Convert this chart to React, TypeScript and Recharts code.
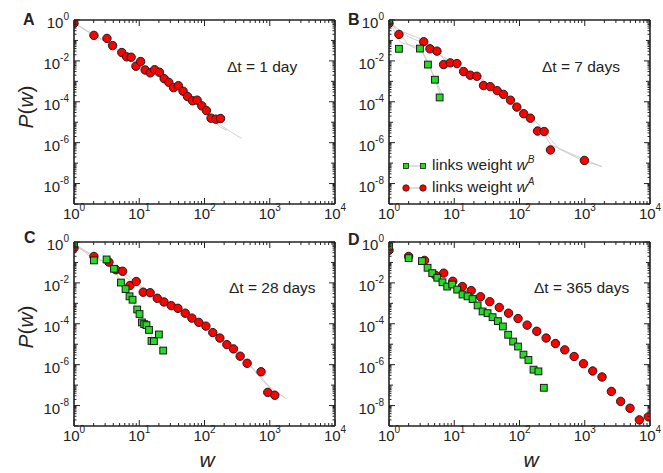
import React from 'react';
import { ScatterChart, Scatter, XAxis, YAxis } from 'recharts';

const FONT = '"Liberation Sans", Arial, Helvetica, sans-serif';
const INK = '#222';
const RED = '#ff0000';
const GREEN = '#22dd22';
const GRAY = '#cfcfcf';

// ---- panel A : Δt = 1 day ----
const aRedW = [1, 2.02, 3.2, 3.9, 5.4, 6.4, 7.5, 8.9, 10.5, 12.3, 14.7, 17.2, 20.4, 24.1, 28.4, 33.5, 39.8, 47, 55, 65.5, 77, 91, 107, 126, 149, 176];
const aRedP = [0.69, 0.177, 0.126, 0.056, 0.0257, 0.0158, 0.0151, 0.0055, 0.0093, 0.0036, 0.0026, 0.0037, 0.0028, 0.00135, 0.00089, 0.00049, 0.00061, 0.00033, 0.00018, 0.000112, 0.00012, 6.3e-5, 3.7e-5, 1.58e-5, 1.41e-5, 1.51e-5];
const aNull1W = [1, 2, 4, 7, 12, 20, 35, 60, 100, 150, 250, 370];
const aNull1P = [0.7, 0.2, 0.05, 0.014, 0.0045, 0.0016, 0.00045, 0.00013, 3.5e-5, 1e-5, 3.5e-6, 1.6e-6];
const aNull2W = [1, 2, 3, 5, 9, 15, 25, 45, 80, 120, 170, 220];
const aNull2P = [0.72, 0.17, 0.09, 0.03, 0.008, 0.0028, 0.0011, 0.00028, 7e-5, 2.2e-5, 6e-6, 4e-6];

// ---- panel B : Δt = 7 days ----
const bRedW = [1, 1.42, 3.4, 4.24, 5.43, 6.87, 8.7, 11, 13.9, 17.6, 22.2, 28.1, 35.6, 45.5, 56.9, 72.8, 91, 116, 147, 189, 239, 298, 988];
const bRedP = [0.69, 0.197, 0.086, 0.039, 0.03, 0.0066, 0.008, 0.0074, 0.003, 0.002, 0.00177, 0.00062, 0.00055, 0.00035, 0.00023, 0.00012, 5.5e-5, 2.6e-5, 1.58e-5, 3.7e-6, 3.5e-6, 4.4e-7, 1.35e-7];
const bGreenW = [1, 1.42, 2.98, 3.95, 5.06, 5.97];
const bGreenP = [0.95, 0.039, 0.04, 0.0066, 0.0012, 0.000163];
const bNull1W = [1, 1.5, 3, 5, 7, 10, 15, 22, 35, 60, 100, 150, 200, 300, 600, 1000, 1840];
const bNull1P = [0.75, 0.3, 0.12, 0.04, 0.012, 0.008, 0.0035, 0.0019, 0.0007, 0.00022, 5e-5, 1.8e-5, 7e-6, 8e-7, 3e-7, 1.5e-7, 6.6e-8];
const bNull2W = [1, 2, 4, 6, 9, 14, 25, 40, 70, 110, 170, 230, 300, 400, 1000, 1800];
const bNull2P = [0.8, 0.15, 0.06, 0.02, 0.009, 0.004, 0.0012, 0.0005, 0.00014, 3.5e-5, 1.2e-5, 5e-6, 1.5e-6, 5e-7, 1.2e-7, 7e-8];
const bNull3W = [1, 1.5, 3, 4, 5, 6.2];
const bNull3P = [0.95, 0.08, 0.045, 0.008, 0.0014, 0.0002];
const bNull4W = [1, 2, 3.2, 4.2, 5.3, 6.5];
const bNull4P = [0.9, 0.06, 0.03, 0.005, 0.001, 0.00025];

// ---- panel C : Δt = 28 days ----
const cRedW = [1, 2.02, 3.43, 4.39, 5.56, 7.2, 9.0, 11.5, 14.7, 18.9, 23.9, 30.9, 39.1, 50.6, 64, 81.8, 105, 134, 172, 220, 278, 352, 450, 736, 932, 1193];
const cRedP = [0.51, 0.197, 0.104, 0.044, 0.037, 0.0074, 0.0117, 0.0035, 0.0033, 0.00177, 0.00117, 0.00077, 0.00057, 0.00033, 0.00019, 0.000117, 7.7e-5, 3.7e-5, 2.0e-5, 9.6e-6, 5.9e-6, 2.6e-6, 1.17e-6, 4.5e-7, 4.4e-8, 3.2e-8];
const cGreenW = [1, 2.02, 3.16, 4.1, 5.24, 6.17, 7.1, 7.9, 9.3, 10.1, 11, 11.9, 12.9, 14.1, 15.4, 16.8, 20, 23.3];
const cGreenP = [0.83, 0.126, 0.14, 0.049, 0.0104, 0.005, 0.0022, 0.0015, 0.0005, 0.0003, 0.000117, 9.6e-5, 8.6e-5, 5.0e-5, 1.45e-5, 1.41e-5, 3.0e-5, 4.9e-6];
const cNull1W = [1, 2, 4, 8, 15, 30, 60, 120, 250, 450, 700, 1000, 1800];
const cNull1P = [0.7, 0.2, 0.06, 0.01, 0.003, 0.0008, 0.00021, 4.5e-5, 7e-6, 1.3e-6, 3e-7, 8e-8, 2.1e-8];
const cNull2W = [1, 3, 6, 10, 20, 40, 80, 160, 300, 500, 800, 1200, 1600];
const cNull2P = [0.8, 0.1, 0.03, 0.008, 0.0017, 0.0005, 0.00012, 2.5e-5, 4e-6, 9e-7, 1.5e-7, 4e-8, 3e-8];
const cNull3W = [1, 2, 3, 4, 5, 6, 7, 8, 10, 12, 14, 16, 20, 23];
const cNull3P = [0.85, 0.14, 0.12, 0.05, 0.015, 0.006, 0.0025, 0.0012, 0.00035, 0.0001, 5e-5, 2e-5, 1e-5, 5e-6];

// ---- panel D : Δt = 365 days ----
const dRedW = [1, 2.0, 3.5, 5.2, 6.9, 9.5, 13.3, 18.2, 25.3, 35, 49, 68, 95, 131, 184, 256, 355, 494, 687, 955, 1325, 1840, 2560, 3550, 4940, 6870, 9420];
const dRedP = [0.39, 0.197, 0.126, 0.023, 0.03, 0.012, 0.0066, 0.0042, 0.0021, 0.0012, 0.00063, 0.00033, 0.00018, 8.6e-5, 4.3e-5, 2.0e-5, 1.08e-5, 5.3e-6, 2.5e-6, 1.12e-6, 4.9e-7, 2.5e-7, 4.9e-8, 1.6e-8, 7.4e-9, 2.0e-9, 2.8e-9];
const dGreenW = [1, 2.0, 3.2, 3.9, 4.6, 5.5, 6.6, 7.8, 9.3, 11.1, 13.4, 16.0, 19.1, 22.8, 27.2, 32.4, 38.7, 46.6, 55.6, 67, 80, 95, 115, 137, 164, 195, 236];
const dGreenP = [0.61, 0.163, 0.117, 0.055, 0.03, 0.0178, 0.0107, 0.0066, 0.0083, 0.0047, 0.0027, 0.0022, 0.00162, 0.00079, 0.0004, 0.00033, 0.00021, 0.000135, 7.4e-5, 2.9e-5, 1.35e-5, 7.7e-6, 3.1e-6, 1.7e-6, 5.7e-7, 4.7e-7, 7.4e-8];

// axis ticks (decades + 2..9 minors)
const xDecades = [1, 10, 100, 1000, 10000];
const yDecades = [1, 1e-1, 1e-2, 1e-3, 1e-4, 1e-5, 1e-6, 1e-7, 1e-8, 1e-9];
const minorsOf = (decades: number[]) => {
  const out: number[] = [];
  decades.slice(0, -1).forEach((d, i) => {
    const lo = Math.min(d, decades[i + 1]);
    for (let m = 2; m <= 9; m++) out.push(lo * m);
  });
  return out;
};
const xTicks = [...xDecades, ...minorsOf(xDecades)];
const yTicks = [...yDecades, ...minorsOf(yDecades)];

const zip = (w: number[], p: number[]) => w.map((v, i) => ({ w: v, p: p[i] }));
const isDecade = (v: number) => Math.abs(Math.log10(v) - Math.round(Math.log10(v))) < 1e-6;
const expOf = (v: number) => Math.round(Math.log10(v));

const BottomTick = (props: any) => {
  const { x, y, payload } = props;
  const major = isDecade(payload.value);
  return (
    <g>
      <line x1={x} x2={x} y1={y} y2={y - (major ? 6 : 3)} stroke={INK} strokeWidth={1} />
      {major && (
        <text x={x} y={y + 15} textAnchor="middle" fontSize={15} fill={INK} fontFamily={FONT}>
          10<tspan dy={-8} fontSize={10}>{expOf(payload.value)}</tspan>
        </text>
      )}
    </g>
  );
};

const TopTick = (props: any) => {
  const { x, y, payload } = props;
  const major = isDecade(payload.value);
  return <line x1={x} x2={x} y1={y} y2={y + (major ? 6 : 3)} stroke={INK} strokeWidth={1} />;
};

const yLen = (v: number) => {
  if (!isDecade(v)) return 2.5;
  return expOf(v) % 2 === 0 ? 6 : 4;
};

const LeftTick = (props: any) => {
  const { x, y, payload } = props;
  const v = payload.value;
  const labeled = isDecade(v) && expOf(v) % 2 === 0 && expOf(v) >= -8;
  return (
    <g>
      <line x1={x} x2={x + yLen(v)} y1={y} y2={y} stroke={INK} strokeWidth={1} />
      {labeled && (
        <text x={x - 5} y={y + 8} textAnchor="end" fontSize={15} fill={INK} fontFamily={FONT}>
          10<tspan dy={-8} fontSize={10}>{expOf(v)}</tspan>
        </text>
      )}
    </g>
  );
};

const RightTick = (props: any) => {
  const { x, y, payload } = props;
  return <line x1={x} x2={x - yLen(payload.value)} y1={y} y2={y} stroke={INK} strokeWidth={1} />;
};

const Dot = (props: any) => (
  <circle cx={props.cx} cy={props.cy} r={4.2} fill={RED} stroke="#1a1a1a" strokeWidth={1} />
);
const Sq = (props: any) => (
  <rect x={props.cx - 3.4} y={props.cy - 3.4} width={6.8} height={6.8} fill={GREEN} stroke="#1a1a1a" strokeWidth={1} />
);
const NoShape = () => <g />;

type Series = { w: number[]; p: number[] };

interface PanelProps {
  left: number;
  top: number;
  nulls: Series[];
  red: Series;
  green?: Series;
}

const axisLine = { stroke: INK, strokeWidth: 1.6 };

const Panel: React.FC<PanelProps> = ({ left, top, nulls, red, green }) => (
  <div style={{ position: 'absolute', left, top }}>
    <ScatterChart width={352} height={240} margin={{ top: 19, right: 16, bottom: 0, left: 0 }}>
      <XAxis xAxisId="b" dataKey="w" type="number" scale="log" domain={[1, 10000]} allowDataOverflow
        ticks={xTicks} interval={0} tickSize={0} tickMargin={0} tick={<BottomTick />} tickLine={false}
        axisLine={axisLine} height={36} orientation="bottom" />
      <XAxis xAxisId="t" dataKey="w" type="number" scale="log" domain={[1, 10000]} allowDataOverflow
        ticks={xTicks} interval={0} tickSize={0} tickMargin={0} tick={<TopTick />} tickLine={false}
        axisLine={axisLine} height={1} orientation="top" />
      <YAxis yAxisId="l" dataKey="p" type="number" scale="log" domain={[1e-9, 1]} allowDataOverflow
        ticks={yTicks} interval={0} tickSize={0} tickMargin={0} tick={<LeftTick />} tickLine={false}
        axisLine={axisLine} width={74} orientation="left" />
      <YAxis yAxisId="r" dataKey="p" type="number" scale="log" domain={[1e-9, 1]} allowDataOverflow
        ticks={yTicks} interval={0} tickSize={0} tickMargin={0} tick={<RightTick />} tickLine={false}
        axisLine={axisLine} width={1} orientation="right" />
      {nulls.map((s, i) => (
        <Scatter key={`null-${i}`} xAxisId="b" yAxisId="l" data={zip(s.w, s.p)} line={{ stroke: GRAY, strokeWidth: 1 }}
          shape={NoShape} isAnimationActive={false} />
      ))}
      <Scatter xAxisId="b" yAxisId="l" data={zip(red.w, red.p)} shape={Dot} isAnimationActive={false} />
      {green && (
        <Scatter xAxisId="b" yAxisId="l" data={zip(green.w, green.p)} shape={Sq} isAnimationActive={false} />
      )}
    </ScatterChart>
  </div>
);

const Sup = ({ base, sup }: { base: string; sup: string }) => (
  <>
    <tspan fontStyle="italic">{base}</tspan>
    <tspan dy={-7} fontSize={10} fontStyle="italic">{sup}</tspan>
  </>
);

export default function App() {
  const txt = { fontFamily: FONT, fill: INK };
  return (
    <div style={{ position: 'absolute', left: 0, top: 0, width: 663, height: 473, background: '#fff', overflow: 'hidden' }}>
      <Panel left={0} top={0} nulls={[{ w: aNull1W, p: aNull1P }, { w: aNull2W, p: aNull2P }]} red={{ w: aRedW, p: aRedP }} />
      <Panel left={315} top={0}
        nulls={[{ w: bNull1W, p: bNull1P }, { w: bNull2W, p: bNull2P }, { w: bNull3W, p: bNull3P }, { w: bNull4W, p: bNull4P }]}
        red={{ w: bRedW, p: bRedP }} green={{ w: bGreenW, p: bGreenP }} />
      <Panel left={0} top={222}
        nulls={[{ w: cNull1W, p: cNull1P }, { w: cNull2W, p: cNull2P }, { w: cNull3W, p: cNull3P }]}
        red={{ w: cRedW, p: cRedP }} green={{ w: cGreenW, p: cGreenP }} />
      <Panel left={315} top={222} nulls={[]} red={{ w: dRedW, p: dRedP }} green={{ w: dGreenW, p: dGreenP }} />

      <svg width={663} height={473} style={{ position: 'absolute', left: 0, top: 0, pointerEvents: 'none' }}>
        {/* panel letters */}
        <text x={23} y={25} fontSize={16} fontWeight="bold" {...txt}>A</text>
        <text x={348} y={25} fontSize={16} fontWeight="bold" {...txt}>B</text>
        <text x={24} y={243} fontSize={16} fontWeight="bold" {...txt}>C</text>
        <text x={348} y={245} fontSize={16} fontWeight="bold" {...txt}>D</text>

        {/* axis titles */}
        <text x={33} y={107} fontSize={21} textAnchor="middle" transform="rotate(-90 33 107)" {...txt}>
          <tspan fontStyle="italic">P</tspan>(<tspan fontStyle="italic">w</tspan>)
        </text>
        <text x={33} y={327} fontSize={21} textAnchor="middle" transform="rotate(-90 33 327)" {...txt}>
          <tspan fontStyle="italic">P</tspan>(<tspan fontStyle="italic">w</tspan>)
        </text>
        <text x={207} y={467} fontSize={21} fontStyle="italic" textAnchor="middle" {...txt}>w</text>
        <text x={531} y={467} fontSize={21} fontStyle="italic" textAnchor="middle" {...txt}>w</text>

        {/* Δt annotations */}
        <text x={227} y={72} fontSize={15.5} {...txt}>Δt = 1 day</text>
        <text x={542} y={72} fontSize={15.5} {...txt}>Δt = 7 days</text>
        <text x={229} y={293} fontSize={15.5} {...txt}>Δt = 28 days</text>
        <text x={534} y={293} fontSize={15.5} {...txt}>Δt = 365 days</text>

        {/* legend in panel B */}
        <line x1={406} x2={423} y1={166} y2={166} stroke="#bbb" strokeWidth={1} />
        <rect x={403.5} y={163.5} width={5} height={5} fill={GREEN} stroke="#1a1a1a" strokeWidth={0.8} />
        <rect x={420.5} y={163.5} width={5} height={5} fill={GREEN} stroke="#1a1a1a" strokeWidth={0.8} />
        <text x={432} y={170} fontSize={15.5} {...txt}>links weight <Sup base="w" sup="B" /></text>
        <line x1={406} x2={423} y1={188} y2={188} stroke="#bbb" strokeWidth={1} />
        <circle cx={406} cy={188} r={3.2} fill={RED} stroke="#1a1a1a" strokeWidth={0.8} />
        <circle cx={423} cy={188} r={3.2} fill={RED} stroke="#1a1a1a" strokeWidth={0.8} />
        <text x={432} y={192} fontSize={15.5} {...txt}>links weight <Sup base="w" sup="A" /></text>
      </svg>
    </div>
  );
}
